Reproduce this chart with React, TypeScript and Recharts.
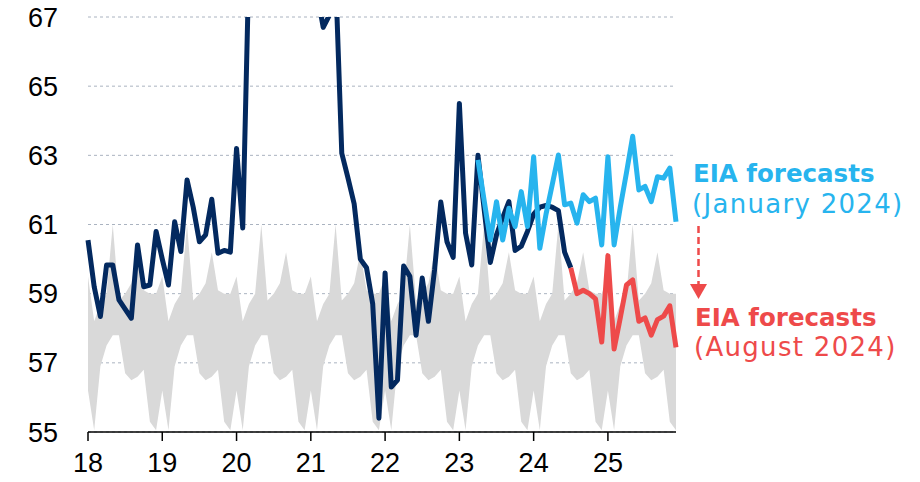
import { ComposedChart, Line, Area, XAxis, YAxis, CartesianGrid } from "recharts";

const yearLabels = ["18", "19", "20", "21", "22", "23", "24", "25"];
const yTicks = [55, 57, 59, 61, 63, 65, 67];

// seasonal range, Jan..Dec
const rangeLow = [56.2, 55.05, 56.9, 57.5, 57.8, 57.8, 56.7, 56.5, 56.6, 56.8, 55.3, 55.05];
const rangeHigh = [59.5, 58.2, 58.7, 59.0, 61.0, 58.8, 59.0, 59.3, 60.2, 59.1, 59.0, 59.0];

// actual, Jan 2018 .. Jul 2024
const actual = [
  60.55, 59.2, 58.34, 59.83, 59.83, 58.82, 58.55, 58.29, 60.41, 59.2, 59.25, 60.8,
  60.0, 59.25, 61.08, 60.22, 62.29, 61.5, 60.5, 60.7, 61.73, 60.17, 60.25, 60.2,
  63.2, 60.9, 68.5, 72, 74, 73, 71, 70, 71, 72, 73, 72,
  70, 67.7, 66.7, 67.05, 68.2, 63.06, 62.35, 61.6, 60.0, 59.75, 58.7, 55.4,
  59.6, 56.3, 56.5, 59.8, 59.5, 57.8, 59.45, 58.2, 59.7, 61.65, 60.5, 60.05,
  64.5, 60.75, 59.83, 63.0, 61.45, 59.9, 60.7, 61.2, 61.66, 60.25, 60.37, 60.8,
  61.3, 61.5, 61.55, 61.5, 61.4, 60.2, 59.75,
];

// EIA forecast January 2024, Apr 2023 .. Dec 2025
const JAN_START = 63;
const forecastJan = [
  62.87, 61.7, 60.55, 61.66, 60.55, 61.47, 60.94, 61.95, 60.94,
  62.96, 60.31, 61.3, 62.15, 63.01, 61.57, 61.62, 61.04, 61.86, 61.66, 61.76, 60.41,
  62.96, 60.41, 61.5, 62.5, 63.55, 62.0, 62.1, 61.66, 62.38, 62.34, 62.63, 61.08,
];

// EIA forecast August 2024, Jul 2024 .. Dec 2025
const AUG_START = 78;
const forecastAug = [
  59.75, 59.0, 59.1, 59.0, 58.85, 57.6,
  60.1, 57.4, 58.3, 59.25, 59.4, 58.2, 58.3, 57.8, 58.25, 58.35, 58.65, 57.45,
];

const NAVY = "#03295f";
const BLUE = "#27b4ee";
const RED = "#ee4a4a";

const months = yearLabels.length * 12;
const rows = Array.from({ length: months }, (_, i) => ({
  i,
  range: [rangeLow[i % 12], rangeHigh[i % 12]],
  actual: i < actual.length ? actual[i] : null,
  jan: i >= JAN_START ? forecastJan[i - JAN_START] : null,
  aug: i >= AUG_START ? forecastAug[i - AUG_START] : null,
}));

const xTicks = yearLabels.map((_, k) => k * 12);
const tickFont = { fill: "#000", fontSize: 27, fontFamily: "Liberation Sans, Arial, sans-serif" };

export default function App() {
  return (
    <div style={{ position: "absolute", left: 0, top: 0, width: 920, height: 482, background: "#fff" }}>
      <ComposedChart
        width={920}
        height={482}
        data={rows}
        margin={{ top: 17, right: 244, bottom: 0, left: 0 }}
      >
        <CartesianGrid vertical={false} stroke="#aab3c0" strokeDasharray="3 3" />
        <XAxis
          dataKey="i"
          type="number"
          domain={[0, months - 1]}
          ticks={xTicks}
          tickFormatter={(v: number) => yearLabels[v / 12]}
          interval={0}
          height={50}
          stroke="#000"
          strokeWidth={1.5}
          tickSize={9}
          tickMargin={12}
          tick={tickFont}
        />
        <YAxis
          domain={[55, 67]}
          ticks={yTicks}
          allowDataOverflow
          width={88}
          axisLine={false}
          tickLine={false}
          tickSize={0}
          tickMargin={30}
          tick={tickFont}
        />
        <Area
          dataKey="range"
          fill="#d9d9d9"
          fillOpacity={1}
          stroke="none"
          isAnimationActive={false}
        />
        <Line dataKey="actual" stroke={NAVY} strokeWidth={5} strokeLinejoin="round" dot={false} isAnimationActive={false} />
        <Line dataKey="jan" stroke={BLUE} strokeWidth={5} strokeLinejoin="round" dot={false} isAnimationActive={false} />
        <Line dataKey="aug" stroke={RED} strokeWidth={5} strokeLinejoin="round" dot={false} isAnimationActive={false} />
      </ComposedChart>
      <svg
        width={920}
        height={482}
        style={{ position: "absolute", left: 0, top: 0, pointerEvents: "none" }}
      >
        <g fontFamily="DejaVu Sans, sans-serif">
          <text x={693} y={182} fill={BLUE} fontSize={24.5} fontWeight={700}>EIA forecasts</text>
          <text x={692} y={213} fill={BLUE} fontSize={26} letterSpacing={1.3}>(January 2024)</text>
          <text x={695} y={326} fill={RED} fontSize={24.5} fontWeight={700}>EIA forecasts</text>
          <text x={694} y={356} fill={RED} fontSize={26} letterSpacing={1.3}>(August 2024)</text>
        </g>
        <line x1={698.5} y1={226} x2={698.5} y2={284} stroke={RED} strokeWidth={2.5} strokeDasharray="7 4" />
        <polygon points="690,284 707,284 698.5,299" fill={RED} />
      </svg>
    </div>
  );
}
